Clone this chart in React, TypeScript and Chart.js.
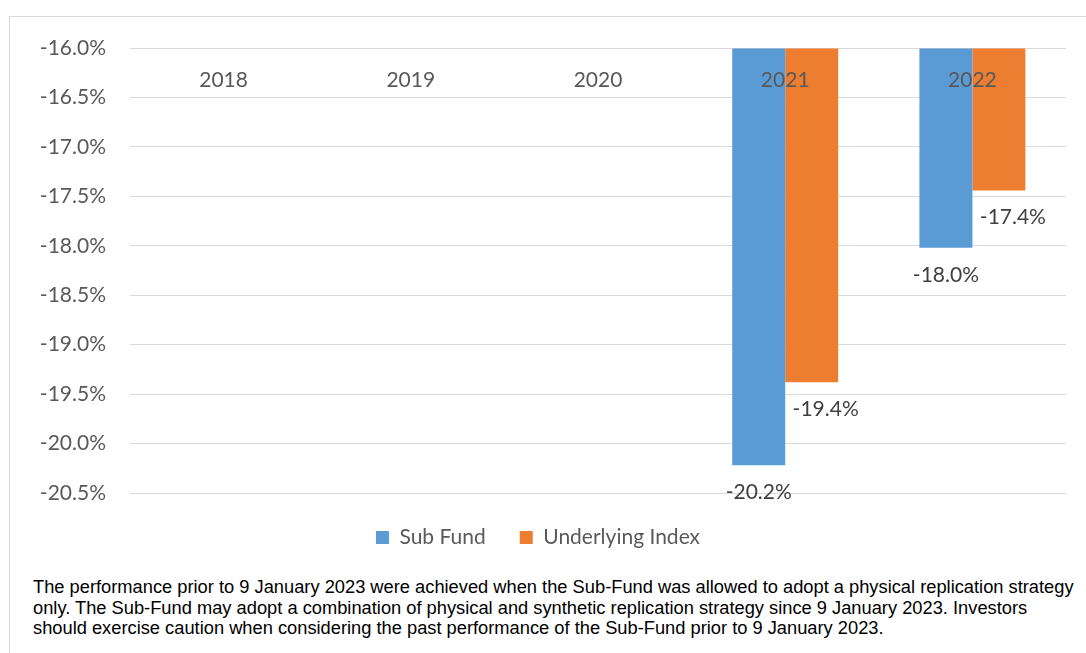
import { useEffect, useRef } from 'react';
import { Chart, registerables } from 'chart.js';

Chart.register(...registerables);

const categories = ['2018', '2019', '2020', '2021', '2022'];
const subFund: (number | null)[] = [null, null, null, -20.22, -18.02];
const underlyingIndex: (number | null)[] = [null, null, null, -19.38, -17.44];
const seriesNames = ['Sub Fund', 'Underlying Index'];
const seriesColors = ['#5B9BD5', '#ED7D31'];
const yMin = -20.5;
const yMax = -16.0;
const yStep = 0.5;

const FONT = 'Lato, "Open Sans", sans-serif';
const fmt = (v: number) => v.toFixed(1) + '%';

const labelPlugin = {
  id: 'excelLabels',
  afterDatasetsDraw(chart: any) {
    const { ctx, chartArea } = chart;
    const xScale = chart.scales.x;
    ctx.save();
    ctx.font = `21px ${FONT}`;
    ctx.textAlign = 'center';
    ctx.textBaseline = 'middle';
    // category labels drawn inside the plot, below the top axis line
    ctx.fillStyle = '#595959';
    categories.forEach((c, i) => {
      ctx.fillText(c, xScale.getPixelForValue(i), chartArea.top + 32);
    });
    // data labels
    ctx.fillStyle = '#404040';
    chart.data.datasets.forEach((ds: any, di: number) => {
      const meta = chart.getDatasetMeta(di);
      meta.data.forEach((el: any, i: number) => {
        const v = ds.data[i];
        if (v == null) return;
        ctx.fillText(fmt(v), el.x + (di === 1 ? 14 : 0), el.y + 27);
      });
    });
    ctx.restore();
  },
};

export default function App() {
  const ref = useRef<HTMLCanvasElement>(null);

  useEffect(() => {
    if (!ref.current) return;
    const chart = new Chart(ref.current, {
      type: 'bar',
      data: {
        labels: categories,
        datasets: [
          {
            label: seriesNames[0],
            data: subFund,
            backgroundColor: seriesColors[0],
            base: yMax,
            barPercentage: 1,
            categoryPercentage: 0.566,
          },
          {
            label: seriesNames[1],
            data: underlyingIndex,
            backgroundColor: seriesColors[1],
            base: yMax,
            barPercentage: 1,
            categoryPercentage: 0.566,
          },
        ],
      },
      options: {
        animation: false,
        responsive: true,
        maintainAspectRatio: false,
        layout: { padding: { left: 0, right: 20, top: 31, bottom: 4 } },
        plugins: {
          tooltip: { enabled: false },
          legend: {
            position: 'bottom',
            labels: {
              boxWidth: 13,
              boxHeight: 13,
              padding: 34,
              color: '#595959',
              font: { family: FONT, size: 21 },
            },
          },
        },
        scales: {
          x: {
            display: false,
          },
          y: {
            min: yMin,
            max: yMax,
            afterFit: (s: any) => {
              s.width = 120;
              s.paddingTop = 5;
              s.paddingBottom = 5;
            },
            border: { display: false },
            grid: { color: '#d9d9d9', lineWidth: 1, drawTicks: false },
            ticks: {
              stepSize: yStep,
              padding: 24,
              color: '#595959',
              font: { family: FONT, size: 21 },
              callback: (v: any) => fmt(Number(v)),
            },
          },
        },
      },
      plugins: [labelPlugin],
    });
    return () => chart.destroy();
  }, []);

  return (
    <div style={{ position: 'absolute', left: 0, top: 0, width: 1086, height: 653, background: '#fff', overflow: 'hidden' }}>
      <div
        style={{
          position: 'absolute',
          left: 9,
          top: 16,
          width: 1100,
          height: 700,
          borderLeft: '1px solid #d9d9d9',
          borderTop: '1px solid #d9d9d9',
        }}
      />
      <div style={{ position: 'absolute', left: 10, top: 17, width: 1076, height: 545 }}>
        <canvas ref={ref} />
      </div>
      <div
        style={{
          position: 'absolute',
          left: 33,
          top: 577,
          fontFamily: '"Liberation Sans", Arial, sans-serif',
          fontSize: 18.3,
          lineHeight: '20.5px',
          color: '#000',
          whiteSpace: 'nowrap',
        }}
      >
        The performance prior to 9 January 2023 were achieved when the Sub-Fund was allowed to adopt a physical replication strategy
        <br />
        only. The Sub-Fund may adopt a combination of physical and synthetic replication strategy since 9 January 2023. Investors
        <br />
        should exercise caution when considering the past performance of the Sub-Fund prior to 9 January 2023.
      </div>
    </div>
  );
}
